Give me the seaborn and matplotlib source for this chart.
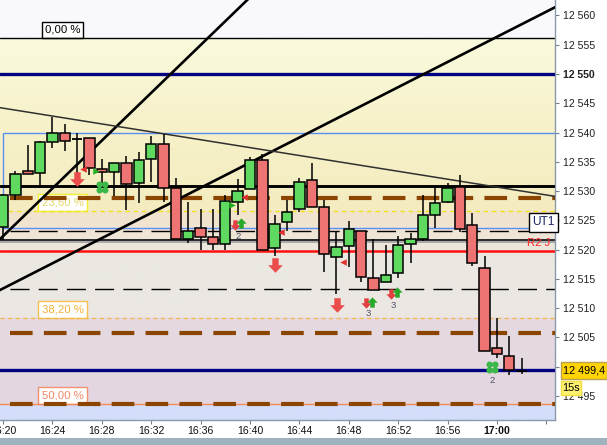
import numpy as np
import pandas as pd
import matplotlib
matplotlib.use("Agg")
import matplotlib.pyplot as plt
import seaborn as sns
from matplotlib.path import Path
from matplotlib.patches import Rectangle
from matplotlib.colors import to_rgb

# ---------------- data ----------------
minutes = list(range(43))  # minutes after 16:20
opens = [12523.8, 12529.3, 12533.4, 12533.1, 12538.3, 12539.9, 12538.9, 12539.0, 12533.7, 12533.2,
         12534.75, 12531.3, 12535.4, 12538.0, 12530.5, 12521.8, 12523.65, 12522.2, 12520.9, 12528.2,
         12530.3, 12535.3, 12520.2, 12524.7, 12527.0, 12531.85, 12527.2, 12518.8, 12520.7, 12523.2,
         12515.1, 12514.4, 12516.0, 12520.9, 12521.8, 12526.0, 12528.2, 12530.65, 12524.2, 12516.8,
         12503.2, 12501.8, 12499.3]
highs = [12529.5, 12533.4, 12537.9, 12538.6, 12542.7, 12541.5, 12540.0, 12539.0, 12535.5, 12534.8,
         12536.0, 12536.6, 12539.4, 12539.75, 12532.2, 12528.2, 12527.0, 12526.9, 12529.3, 12532.0,
         12535.8, 12536.3, 12525.9, 12528.5, 12532.2, 12534.75, 12528.5, 12523.1, 12524.9, 12523.2,
         12521.9, 12520.8, 12522.3, 12522.8, 12529.3, 12530.5, 12531.3, 12532.75, 12526.2, 12518.9,
         12508.4, 12505.3, 12501.55]
lows = [12521.7, 12528.5, 12532.9, 12530.9, 12537.3, 12536.9, 12533.0, 12532.75, 12531.0, 12529.2,
        12526.8, 12528.0, 12531.6, 12528.2, 12521.8, 12521.1, 12520.0, 12520.0, 12520.0, 12525.9,
        12530.3, 12520.0, 12518.9, 12523.1, 12526.5, 12527.2, 12516.2, 12512.4, 12517.0, 12514.5,
        12513.1, 12514.4, 12515.2, 12517.8, 12521.4, 12523.65, 12527.9, 12523.0, 12517.2, 12502.75,
        12501.45, 12498.6, 12498.8]
closes = [12529.3, 12532.9, 12533.0, 12538.3, 12540.0, 12538.6, 12538.9, 12533.9, 12533.2, 12534.75,
          12531.2, 12535.3, 12538.0, 12530.5, 12521.8, 12523.1, 12522.2, 12520.9, 12528.25, 12530.0,
          12535.3, 12520.0, 12524.3, 12526.4, 12531.5, 12527.2, 12519.2, 12520.4, 12523.5, 12515.4,
          12513.1, 12515.6, 12520.75, 12521.8, 12525.9, 12527.9, 12530.5, 12523.5, 12517.8, 12502.75,
          12502.1, 12499.45, 12499.3]

tick_minutes = [0, 4, 8, 12, 16, 20, 24, 28, 32, 36, 40, 44]
tick_labels = ["16:20", "16:24", "16:28", "16:32", "16:36", "16:40", "16:44", "16:48",
               "16:52", "16:56", "17:00", ""]
price_ticks = [12495, 12500, 12505, 12510, 12515, 12520, 12525, 12530, 12535, 12540,
               12545, 12550, 12555, 12560]

fib_levels = [12556.15, 12526.65, 12508.4, 12493.65]
fib_labels = ["0,00 %", "23,60 %", "38,20 %", "50,00 %"]

navy_levels = [12550.0, 12499.4]
thick_black_levels = [12530.9]
brown_levels = [12528.9, 12505.8, 12493.65]
black_dash_levels = [12523.2, 12513.3]
gray_levels = [12521.65]
red_levels = [12519.8]
box_range = [12523.65, 12540.0]

trend_x0 = [-0.243, -0.243, -0.243]
trend_y0 = [12521.8, 12513.1, 12544.25]
trend_x1 = [20.0, 44.7, 44.7]
trend_y1 = [12563.1, 12561.4, 12529.1]

big_down_x = [6.0, 22.0, 27.07]
big_down_y = [12532.0, 12517.4, 12510.55]
small_down_x = [18.8, 29.37, 31.4]
small_down_y = [12524.2, 12510.9, 12512.4]
small_up_x = [19.27, 29.85, 31.88]
small_up_y = [12524.5, 12511.0, 12512.7]
count_x = [19.05, 29.58, 31.6, 39.6]
count_y = [12522.3, 12509.1, 12510.5, 12497.6]
count_txt = ["2", "3", "3", "2"]
clover_x = [8.04, 39.62]
clover_y = [12530.65, 12499.9]
left_tri_x = [6.5, 19.54, 22.5, 27.57]
left_tri_y = [12533.7, 12528.95, 12523.0, 12517.85]
right_tri_x = [7.53, 18.57]
right_tri_y = [12533.5, 12527.6]

last_price = "12 499,4"

# ---------------- style ----------------
sns.set_style("white")
plt.rcParams["font.family"] = ["Liberation Sans", "DejaVu Sans"]
plt.rcParams["lines.scale_dashes"] = False

W, H = 607, 445
fig = plt.figure(figsize=(W / 100, H / 100), dpi=100)
fig.patch.set_facecolor("white")
ax = fig.add_axes([0, 25 / H, 555 / W, 420 / H])

XMIN, XMAX = -0.243, 44.70
YMIN, YMAX = 12490.9, 12562.64
ax.set_xlim(XMIN, XMAX)
ax.set_ylim(YMIN, YMAX)

# background gradient
stops = [(12490.9, "#d4defa"), (12493.64, "#d4defa"), (12493.66, "#e3d6e0"),
         (12508.39, "#e6dae2"), (12508.41, "#ebe7e3"), (12519.0, "#ece7e1"),
         (12526.6, "#f2e3ca"), (12526.7, "#f4ecc0"), (12540.0, "#f6f1c8"),
         (12556.1, "#fafadd"), (12556.2, "#f9f9fd"), (12562.7, "#f9f9fd")]
ys = np.linspace(YMIN, YMAX, 800)
sp = [s[0] for s in stops]
cols = np.array([to_rgb(s[1]) for s in stops])
img = np.stack([np.interp(ys, sp, cols[:, k]) for k in range(3)], axis=-1)[:, None, :]
ax.imshow(img, extent=[XMIN, XMAX, YMIN, YMAX], origin="lower", aspect="auto", zorder=0)

# blue box
ax.add_patch(Rectangle((0, box_range[0]), XMAX + 1, box_range[1] - box_range[0],
                       fill=False, edgecolor="#5b90f2", lw=1.0, zorder=1))

# fib lines
ax.axhline(fib_levels[0], color="black", lw=1.0, zorder=2)
ax.axhline(fib_levels[1], color="#f2e21a", lw=1.0, dashes=(3, 3), zorder=2)
ax.axhline(fib_levels[2], color="#f6b850", lw=1.0, dashes=(3, 2.5), zorder=2)
ax.axhline(fib_levels[3], color="#f58a50", lw=1.0, zorder=2)

fib_text = ["black", "#e4d86a", "#f2b038", "#f2866a"]
fib_edge = ["black", "#f2ee30", "#f6c050", "#f29070"]
for lv, lab, tc, ec in zip(fib_levels, fib_labels, fib_text, fib_edge):
    ax.text(4.82, lv + 0.55, lab, ha="center", va="bottom", fontsize=8.2, color=tc, zorder=1.5,
            bbox=dict(boxstyle="square,pad=0.28", fc="white", ec=ec, lw=1.0))

for lv in navy_levels:
    ax.axhline(lv, color="#000080", lw=2.4, zorder=3)
for lv in thick_black_levels:
    ax.axhline(lv, color="black", lw=2.1, zorder=3)
for lv in brown_levels:
    ax.hlines(lv, 0.57, XMAX, color="#8b4500", lw=3.0, linestyles=[(0, (16.3, 8.1))], zorder=3)
for lv in black_dash_levels:
    ax.hlines(lv, 0.55, XMAX, color="black", lw=1.0, linestyles=[(0, (13.7, 6.6))], zorder=2)
for lv in gray_levels:
    ax.axhline(lv - 0.12, color="#a8a8a8", lw=2.8, zorder=2)
    ax.axhline(lv, color="#2a2a2a", lw=1.4, zorder=2)
for lv in red_levels:
    ax.axhline(lv, color="#ff1010", lw=1.8, zorder=3)

# trend lines
for i in range(len(trend_x0)):
    tdf = pd.DataFrame({"t": [trend_x0[i], trend_x1[i]], "p": [trend_y0[i], trend_y1[i]]})
    if i < 2:
        sns.lineplot(data=tdf, x="t", y="p", ax=ax, color="black", lw=1.9, zorder=4)
    else:
        sns.lineplot(data=tdf, x="t", y="p", ax=ax, color="#303030", lw=1.1, zorder=4)

# candles
df = pd.DataFrame({"t": minutes, "o": opens, "h": highs, "l": lows, "c": closes})
ax.vlines(df["t"], df["l"], df["h"], color="black", lw=1.1, zorder=5)
body = df[df["o"] != df["c"]]
bcol = np.where(body["c"] > body["o"], "#5fd95f", "#ee7474")
ax.bar(body["t"], (body["c"] - body["o"]).abs(), bottom=np.minimum(body["o"], body["c"]),
       width=0.84, color=bcol, edgecolor="black", lw=1.1, zorder=6)
doji = df[df["o"] == df["c"]]
ax.hlines(doji["o"], doji["t"] - 0.42, doji["t"] + 0.42, color="black", lw=1.3, zorder=6)

# markers
down_arrow = [(-0.22, 0.5), (0.22, 0.5), (0.22, 0.02), (0.5, 0.02), (0, -0.5), (-0.5, 0.02),
              (-0.22, 0.02), (-0.22, 0.5)]
up_arrow = [(x, -y) for x, y in down_arrow]
ax.scatter(big_down_x, big_down_y, marker=down_arrow, s=110, color="#ea4c4c", lw=0, zorder=7)
ax.scatter(small_down_x, small_down_y, marker=down_arrow, s=55, color="#e24040", lw=0, zorder=7)
ax.scatter(small_up_x, small_up_y, marker=up_arrow, s=55, color="#28a828", lw=0, zorder=7)
circ = [Path.circle((dx, dy), 0.5) for dx, dy in [(0.45, 0.45), (-0.45, 0.45), (0.45, -0.45), (-0.45, -0.45)]]
clover = Path.make_compound_path(*circ)
ax.scatter(clover_x, clover_y, marker=clover, s=75, color="#3cb84a", lw=0, zorder=7)
ax.scatter(left_tri_x, left_tri_y, marker="<", s=22, color="#e03030", lw=0, zorder=7)
ax.scatter(right_tri_x, right_tri_y, marker=">", s=22, color="#20b020", lw=0, zorder=7)
for x, y, t in zip(count_x, count_y, count_txt):
    ax.text(x, y, t, ha="center", va="center", fontsize=6.8, color="#505468", zorder=7)

# right side labels on plot
ax.text(XMAX - 0.05, 12524.65, "UT1", ha="right", va="center", fontsize=8.6, color="#1a2460",
        zorder=8, bbox=dict(boxstyle="square,pad=0.28", fc="white", ec="black", lw=1.0))
ax.text(XMAX - 0.35, 12521.1, "R2 J", ha="right", va="center", fontsize=8.2, color="#ff2828", zorder=8)

# axes
ax.yaxis.tick_right()
ax.set_yticks(price_ticks)
ax.set_yticklabels([f"{v:,}".replace(",", " ") for v in price_ticks])
for lab in ax.get_yticklabels():
    if lab.get_text() == "12 550":
        lab.set_fontweight("bold")
ax.set_xticks(tick_minutes)
ax.set_xticklabels(tick_labels)
for lab in ax.get_xticklabels():
    if lab.get_text() == "17:00":
        lab.set_fontweight("bold")
ax.tick_params(axis="y", which="both", right=True, left=False, length=3, width=0.8,
               color="#708090", pad=3, labelsize=7.6, labelcolor="#202020")
ax.tick_params(axis="x", which="both", bottom=True, length=3, width=0.8, color="#708090",
               pad=1.5, labelsize=7.6, labelcolor="#101010")
for s in ["top", "left"]:
    ax.spines[s].set_visible(False)
for s in ["right", "bottom"]:
    ax.spines[s].set_color("#8a9aaa")
    ax.spines[s].set_linewidth(1.0)
ax.set_xlabel("")
ax.set_ylabel("")
ax.grid(False)

# price tags in margin
fig.patches.append(Rectangle((561 / W, 1 - 379 / H), 46 / W, 17 / H, transform=fig.transFigure,
                             fc="#ffd400", ec="#b8a050", lw=1.0, zorder=5))
fig.text(563 / W, 1 - 370.5 / H, last_price, ha="left", va="center", fontsize=7.8, color="black", zorder=6)
fig.patches.append(Rectangle((561 / W, 1 - 395 / H), 20 / W, 14 / H, transform=fig.transFigure,
                             fc="#fff170", ec="#f0e040", lw=1.0, zorder=5))
fig.text(571 / W, 1 - 388 / H, "15s", ha="center", va="center", fontsize=7.8, color="black", zorder=6)

# scrollbar strip at bottom
fig.patches.append(Rectangle((0, 0), 1, 7 / H, transform=fig.transFigure, fc="#9fb3be", ec="none", zorder=1))

fig.savefig("out.png", dpi=100)
